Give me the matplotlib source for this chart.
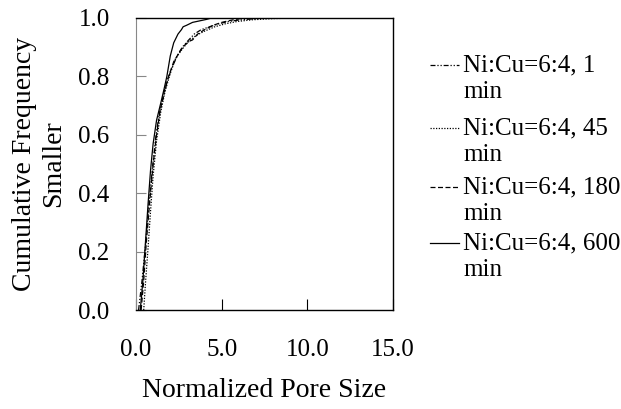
import numpy as np
import matplotlib
matplotlib.use("Agg")
from matplotlib import pyplot as plt
from matplotlib.lines import Line2D

plt.rcParams['font.family'] = ['Liberation Serif', 'DejaVu Serif']

# normalized pore size vs cumulative frequency
x_1min = [0.15, 0.35, 0.55, 0.75, 0.95, 1.15, 1.35, 1.6, 1.85, 2.1, 2.4, 2.7, 3.0, 3.4, 3.8, 4.3, 4.8, 5.4, 6.0, 6.8, 7.5]
y_1min = [0.0, 0.1, 0.22, 0.36, 0.48, 0.59, 0.67, 0.73, 0.79, 0.83, 0.87, 0.9, 0.92, 0.945, 0.96, 0.97, 0.98, 0.988, 0.993, 0.997, 1.0]

x_45min = [0.45, 0.55, 0.7, 0.85, 1.0, 1.2, 1.45, 1.7, 2.0, 2.3, 2.65, 3.0, 3.5, 4.0, 4.6, 5.2, 5.9, 6.8, 8.0, 9.4]
y_45min = [0.0, 0.09, 0.21, 0.34, 0.46, 0.58, 0.68, 0.75, 0.81, 0.86, 0.89, 0.915, 0.94, 0.955, 0.97, 0.98, 0.988, 0.994, 0.998, 1.0]

x_180min = [0.3, 0.45, 0.6, 0.8, 1.0, 1.2, 1.4, 1.65, 1.9, 2.2, 2.5, 2.8, 3.1, 3.3, 3.6, 4.0, 4.5, 5.0, 5.6, 6.3]
y_180min = [0.0, 0.1, 0.23, 0.37, 0.5, 0.6, 0.68, 0.75, 0.8, 0.85, 0.88, 0.905, 0.92, 0.925, 0.945, 0.96, 0.975, 0.985, 0.993, 1.0]

x_600min = [0.25, 0.4, 0.55, 0.7, 0.85, 1.0, 1.2, 1.45, 1.65, 1.8, 2.0, 2.2, 2.45, 2.65, 2.75, 2.95, 3.3, 3.7, 4.1, 4.4]
y_600min = [0.0, 0.1, 0.23, 0.36, 0.48, 0.57, 0.65, 0.71, 0.76, 0.8, 0.87, 0.915, 0.945, 0.96, 0.97, 0.975, 0.985, 0.99, 0.995, 1.0]

labels = ['Ni:Cu=6:4, 1\nmin', 'Ni:Cu=6:4, 45\nmin', 'Ni:Cu=6:4, 180\nmin', 'Ni:Cu=6:4, 600\nmin']
xticks = [0.0, 5.0, 10.0, 15.0]
yticks = [0.0, 0.2, 0.4, 0.6, 0.8, 1.0]

series = [(x_1min, y_1min), (x_45min, y_45min), (x_180min, y_180min), (x_600min, y_600min)]
dash_styles = [(4, 1.5, 1, 1.5, 1, 1.5), (1, 1.2), (4, 2), None]

fig = plt.figure(figsize=(6.21, 4.09), dpi=100)
ax = fig.add_axes([0.219, 0.242, 0.414, 0.714])

for (xs, ys), d, lab in zip(series, dash_styles, labels):
    if d is None:
        ax.plot(xs, ys, color='k', lw=0.9, label=lab)
    else:
        ax.plot(xs, ys, color='k', lw=0.9, dashes=d, label=lab)

ax.set_xlim(0, 15)
ax.set_ylim(0, 1.0)
ax.set_xticks(xticks)
ax.set_xticklabels(['%.1f' % v for v in xticks])
ax.set_yticks(yticks)
ax.set_yticklabels(['%.1f' % v for v in yticks])
ax.tick_params(axis='x', direction='in', length=8, width=0.8, pad=21, labelsize=18)
ax.tick_params(axis='y', direction='in', length=7, width=0.8, pad=19, labelsize=18, color='#888888')
ax.spines['left'].set_color('#888888')
for s in ['top', 'right', 'bottom']:
    ax.spines[s].set_color('k')
    ax.spines[s].set_linewidth(1.0)

ax.set_xlabel('Normalized Pore Size', fontsize=20, labelpad=12)
ax.set_ylabel('Cumulative Frequency\nSmaller', fontsize=20, labelpad=9, linespacing=1.2)

# legend drawn by hand: handle sits next to the first text line
row_y = [65, 128, 187, 243]   # pixel rows of the first text line
H = 409.0
W = 621.0
for ry, d, lab in zip(row_y, dash_styles, labels):
    yf = 1 - ry / H
    h = Line2D([430 / W, 459 / W], [yf, yf], transform=fig.transFigure,
               color='k', lw=0.9)
    if d is not None:
        h.set_dashes(d)
    fig.add_artist(h)
    first, second = lab.split('\n')
    fig.text(463 / W, yf, first, fontsize=18, va='center', ha='left')
    fig.text(463 / W, 1 - (ry + 27) / H, second, fontsize=18, va='center', ha='left')

fig.savefig('out.png', dpi=100)
